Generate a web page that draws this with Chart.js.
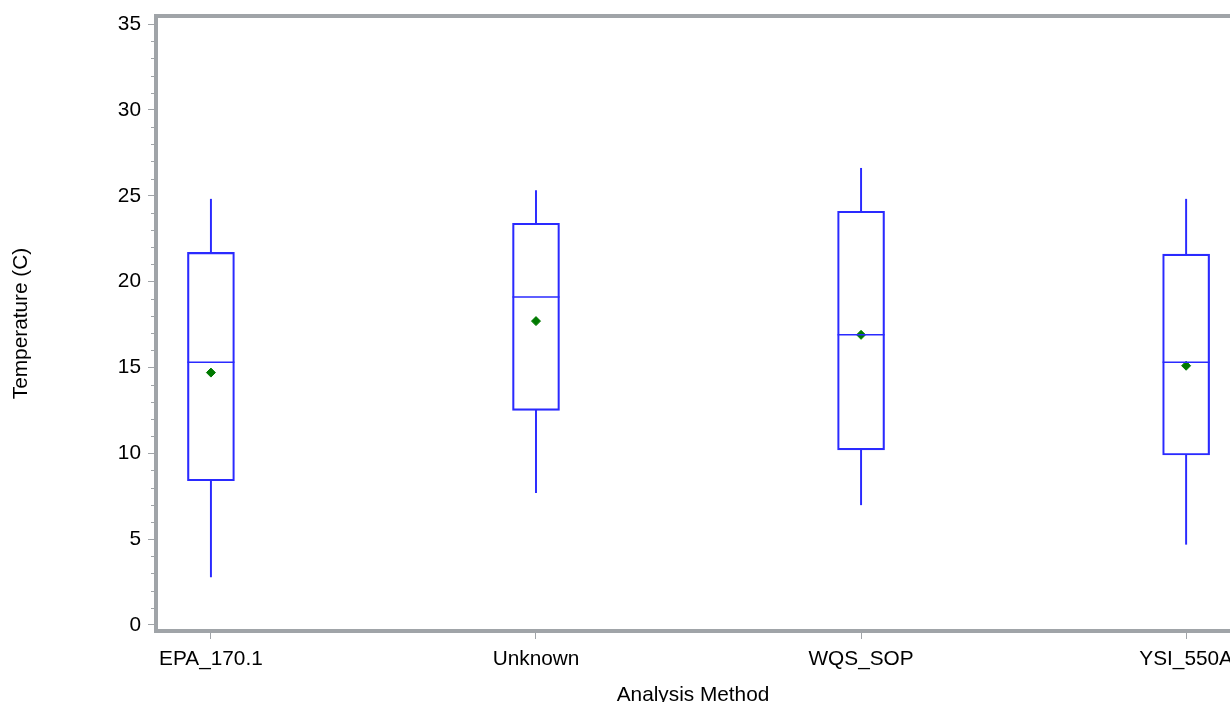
<!DOCTYPE html>
<html lang="en">
<head>
    <meta charset="UTF-8">
    <title>Temperature by Analysis Method</title>
    <script src="https://cdn.jsdelivr.net/npm/chart.js"></script>
    <style>
        body { margin: 0; padding: 0; background: #ffffff; overflow: hidden; }
        canvas { display: block; }
    </style>
</head>
<body>
    <canvas id="boxChart" width="1230" height="702"></canvas>

    <script>
        // data
        const methods = ['EPA_170.1', 'Unknown', 'WQS_SOP', 'YSI_550A'];
        const whiskerLow = [2.8, 7.7, 7.0, 4.7];
        const q1 = [8.4, 12.5, 10.2, 9.9];
        const median = [15.3, 19.1, 16.9, 15.3];
        const q3 = [21.7, 23.4, 24.1, 21.6];
        const whiskerHigh = [24.8, 25.3, 26.6, 24.8];
        const means = [14.7, 17.7, 16.9, 15.1];
        const yTicks = [0, 5, 10, 15, 20, 25, 30, 35];

        const BLUE = '#2a2aff';
        const GREEN = '#007a00';
        const FRAME = '#a0a4a8';
        const FONT = "'Liberation Sans', Arial, sans-serif";

        const idx = methods.map((m, i) => i);

        // frame + minor ticks, SAS style
        const framePlugin = {
            id: 'frame',
            afterDraw(chart) {
                const { ctx, chartArea: a, scales } = chart;
                ctx.save();
                ctx.strokeStyle = FRAME;
                ctx.lineWidth = 1;
                for (let v = 0; v <= 35; v++) {
                    if (v % 5 === 0) continue;
                    const y = Math.round(scales.y.getPixelForValue(v)) + 0.5;
                    ctx.beginPath();
                    ctx.moveTo(a.left - 5, y);
                    ctx.lineTo(a.left, y);
                    ctx.stroke();
                }
                ctx.lineWidth = 4;
                ctx.beginPath();
                ctx.moveTo(a.right + 10, a.top);
                ctx.lineTo(a.left, a.top);
                ctx.lineTo(a.left, a.bottom);
                ctx.lineTo(a.right + 10, a.bottom);
                ctx.stroke();
                ctx.restore();
            }
        };

        new Chart(document.getElementById('boxChart'), {
            type: 'bar',
            data: {
                datasets: [
                    {
                        label: 'lower whisker',
                        data: idx.map(i => ({ x: i, y: [whiskerLow[i], q1[i]] })),
                        backgroundColor: BLUE,
                        borderWidth: 0,
                        barThickness: 1.3,
                        grouped: false
                    },
                    {
                        label: 'upper whisker',
                        data: idx.map(i => ({ x: i, y: [q3[i], whiskerHigh[i]] })),
                        backgroundColor: BLUE,
                        borderWidth: 0,
                        barThickness: 1.3,
                        grouped: false
                    },
                    {
                        label: 'box',
                        data: idx.map(i => ({ x: i, y: [q1[i], q3[i]] })),
                        backgroundColor: 'rgba(255,255,255,0)',
                        borderColor: BLUE,
                        borderWidth: 1.5,
                        borderSkipped: false,
                        barThickness: 47,
                        grouped: false
                    },
                    {
                        type: 'scatter',
                        label: 'median',
                        data: idx.map(i => ({ x: i, y: median[i] })),
                        pointStyle: 'line',
                        radius: 23.5,
                        borderColor: BLUE,
                        borderWidth: 1.5
                    },
                    {
                        type: 'scatter',
                        label: 'mean',
                        data: idx.map(i => ({ x: i, y: means[i] })),
                        pointStyle: 'rectRot',
                        radius: 4.5,
                        backgroundColor: GREEN,
                        borderColor: GREEN,
                        borderWidth: 1
                    }
                ]
            },
            options: {
                responsive: false,
                animation: false,
                layout: { autoPadding: false, padding: { top: 16, right: 0, left: 0, bottom: 0 } },
                plugins: {
                    legend: { display: false },
                    tooltip: { enabled: false }
                },
                scales: {
                    x: {
                        type: 'linear',
                        offset: false,
                        min: -0.169,
                        max: 3.135,
                        afterBuildTicks: s => { s.ticks = idx.map(i => ({ value: i })); },
                        afterFit: s => {
                            s.height = 71;
                            s.paddingLeft = 0;
                            s.paddingRight = 0;
                        },
                        ticks: {
                            callback: v => methods[v],
                            autoSkip: false,
                            maxRotation: 0,
                            padding: 8,
                            color: '#000',
                            font: { family: FONT, size: 20.8 }
                        },
                        grid: { offset: false, drawOnChartArea: false, tickLength: 8, tickColor: FRAME, tickWidth: 1 },
                        border: { display: false },
                        title: {
                            display: true,
                            text: 'Analysis Method',
                            color: '#000',
                            font: { family: FONT, size: 20.8 },
                            padding: { top: 0, bottom: -6 }
                        }
                    },
                    y: {
                        min: -0.35,
                        max: 35.47,
                        afterBuildTicks: s => { s.ticks = yTicks.map(v => ({ value: v })); },
                        afterFit: s => {
                            s.width = 156;
                            s.paddingTop = 0;
                            s.paddingBottom = 0;
                        },
                        ticks: {
                            padding: 7,
                            color: '#000',
                            font: { family: FONT, size: 20.8 }
                        },
                        grid: { drawOnChartArea: false, tickLength: 8, tickColor: FRAME, tickWidth: 1 },
                        border: { display: false },
                        title: {
                            display: true,
                            text: 'Temperature (C)',
                            color: '#000',
                            font: { family: FONT, size: 20.8 },
                            padding: { top: 9, bottom: 0 }
                        }
                    }
                }
            },
            plugins: [framePlugin]
        });
    </script>
</body>
</html>
